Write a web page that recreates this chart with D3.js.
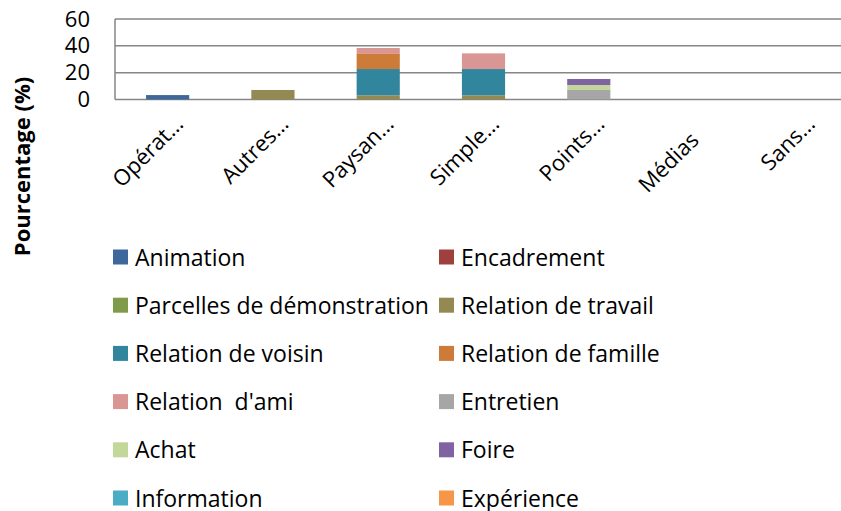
<!DOCTYPE html>
<html><head><meta charset="utf-8">
<script src="https://cdn.jsdelivr.net/npm/d3@7"></script>
<style>body{margin:0;background:#fff}svg{display:block}text{font-family:"Open Sans",sans-serif;fill:#000;font-variant-ligatures:none}</style>
</head><body><svg id="c" width="841" height="511"></svg>
<script>
const categories = ["Opérat…","Autres…","Paysan…","Simple…","Points…","Médias","Sans…"];
const seriesNames = ["Animation","Encadrement","Parcelles de démonstration","Relation de travail","Relation de voisin","Relation de famille","Relation  d'ami","Entretien","Achat","Foire","Information","Expérience"];
const colors = ["#3E689C","#A0403E","#7F9A48","#938953","#31859C","#CC7B38","#DA9694","#A6A6A6","#C4D79B","#8064A2","#4BACC6","#F79646"];
const animation   = [3.3,0,0,0,0,0,0];
const encadrement = [0,0,0,0,0,0,0];
const parcelles   = [0,0,0,0,0,0,0];
const travail     = [0,7.1,3.1,3.1,0,0,0];
const voisin      = [0,0,19.6,19.6,0,0,0];
const famille     = [0,0,11.7,0,0,0,0];
const ami         = [0,0,4.0,11.7,0,0,0];
const entretien   = [0,0,0,0,7.1,0,0];
const achat       = [0,0,0,0,3.7,0,0];
const foire       = [0,0,0,0,4.5,0,0];
const information = [0,0,0,0,0,0,0];
const experience  = [0,0,0,0,0,0,0];
const yTicks = [0,20,40,60];

const seriesValues = [animation,encadrement,parcelles,travail,voisin,famille,ami,entretien,achat,foire,information,experience];
const rows = categories.map((c,i)=>{const o={cat:c};seriesNames.forEach((s,j)=>o[s]=seriesValues[j][i]);return o;});
const stacked = d3.stack().keys(seriesNames)(rows);

const svg = d3.select("#c");
const L=115, R=852, T=19, B=99.5;
const x = d3.scaleBand().domain(categories).range([L,R]).paddingInner(0.59).paddingOuter(0.295);
const y = d3.scaleLinear().domain([0,60]).range([B,T]);

svg.append("g").selectAll("line").data(yTicks).join("line")
  .attr("x1",L).attr("x2",R).attr("y1",d=>y(d)).attr("y2",d=>y(d))
  .attr("stroke","#868686").attr("stroke-width",1.5);
svg.append("line").attr("x1",L).attr("x2",L).attr("y1",T).attr("y2",B).attr("stroke","#868686").attr("stroke-width",1.5);

svg.append("g").selectAll("g").data(stacked).join("g")
  .attr("fill",(d,i)=>colors[i])
  .selectAll("rect").data(d=>d).join("rect")
  .attr("x",d=>x(d.data.cat)).attr("width",x.bandwidth())
  .attr("y",d=>y(d[1])).attr("height",d=>Math.max(0,y(d[0])-y(d[1])));

const ya = svg.append("g").attr("transform",`translate(${L},0)`)
  .call(d3.axisLeft(y).tickValues(yTicks).tickSize(0).tickPadding(25));
ya.select(".domain").remove();
ya.selectAll("text").attr("font-size",22).attr("font-family","Open Sans");

const xa = svg.append("g").attr("transform",`translate(0,${B})`)
  .call(d3.axisBottom(x).tickSize(0).tickPadding(0));
xa.select(".domain").remove();
xa.selectAll("text").attr("font-size",22).attr("font-family","Open Sans")
  .attr("text-anchor","end").attr("dy",0).attr("y",0)
  .attr("transform",d=>d.endsWith("…")?"translate(17,26) rotate(-45)":"translate(6,42) rotate(-45)");

svg.append("text").attr("transform","translate(30,166.5) rotate(-90)")
  .attr("text-anchor","middle").attr("font-size",22).attr("font-weight","bold")
  .text("Pourcentage (%)");

const leg = svg.append("g");
seriesNames.forEach((s,i)=>{
  const col=i%2, row=Math.floor(i/2);
  const gx = col===0?113:439, gy = 257+row*48.2;
  leg.append("rect").attr("x",gx).attr("y",gy-7.5).attr("width",15).attr("height",15).attr("fill",colors[i]);
  leg.append("text").attr("x",gx+22).attr("y",gy+8.5).attr("font-size",23).style("white-space","pre").text(s);
});
</script></body></html>
